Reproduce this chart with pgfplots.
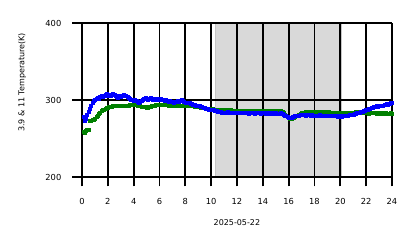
\documentclass[border=0pt]{standalone}
\usepackage{pgfplots}
\usepackage{pgfplotstable}
\pgfplotsset{compat=1.18}
\usepackage{fontspec}
\setmainfont{DejaVu Sans}
\definecolor{mblue}{HTML}{0000FF}
\definecolor{mgreen}{HTML}{008000}
\definecolor{shade}{HTML}{D9D9D9}
\pgfplotstableread{
h b g
0.1 278 259
0.2 273 258
0.3 276 260
0.4 281 261
0.5 285 262
0.6 289 273
0.7 292 273
0.8 296 274
0.9 299 275
1.0 301 276
1.1 302 278
1.2 303 280
1.3 302 282
1.4 304 284
1.5 305 286
1.6 304 287
1.7 306 288
1.8 307 289
1.9 308 290
2.0 306 290
2.1 307 291
2.2 305 291
2.3 307 291
2.4 308 292
2.5 307 292
2.6 306 292
2.7 304 292
2.8 303 293
2.9 305 293
3.0 304 293
3.1 306 293
3.2 307 293
3.3 305 293
3.4 306 293
3.5 304 293
3.6 303 293
3.7 302 294
3.8 301 294
3.9 300 294
4.0 299 294
4.1 300 294
4.2 299 294
4.3 298 293
4.4 297 292
4.5 298 292
4.6 299 291
4.7 301 291
4.8 302 291
4.9 303 291
5.0 302 290
5.1 301 290
5.2 302 291
5.3 303 291
5.4 302 292
5.5 301 293
5.6 302 293
5.7 301 294
5.8 302 294
5.9 300 294
6.0 301 294
6.1 302 294
6.2 301 294
6.3 300 294
6.4 299 294
6.5 300 294
6.6 299 294
6.7 298 293
6.8 299 293
6.9 298 294
7.0 298 293
7.1 297 293
7.2 298 293
7.3 298 293
7.4 299 293
7.5 298 293
7.6 299 293
7.7 300 293
7.8 299 293
7.9 298 292
8.0 297 292
8.1 297 292
8.2 296 292
8.3 296 292
8.4 295 292
8.5 295 292
8.6 294 292
8.7 294 291
8.8 293 291
8.9 293 291
9.0 292 291
9.1 292 291
9.2 291 290
9.3 291 290
9.4 290 290
9.5 290 290
9.6 289 289
9.7 289 289
9.8 288 289
9.9 288 289
10.0 288 289
10.1 287 289
10.2 287 288
10.3 286 288
10.4 286 288
10.5 285 288
10.6 285 288
10.7 285 288
10.8 284 288
10.9 284 288
11.0 284 287
11.1 284 287
11.2 284 287
11.3 285 287
11.4 284 287
11.5 284 287
11.6 283 286
11.7 284 286
11.8 284 286
11.9 283 286
12.0 284 286
12.1 284 286
12.2 283 286
12.3 283 286
12.4 284 286
12.5 283 286
12.6 283 286
12.7 284 286
12.8 283 286
12.9 282 286
13.0 283 286
13.1 283 286
13.2 283 286
13.3 283 286
13.4 282 286
13.5 283 286
13.6 283 286
13.7 283 286
13.8 282 286
13.9 283 286
14.0 283 286
14.1 283 286
14.2 282 285
14.3 283 285
14.4 283 286
14.5 282 286
14.6 282 286
14.7 283 286
14.8 282 286
14.9 282 286
15.0 283 286
15.1 282 286
15.2 282 286
15.3 282 286
15.4 283 286
15.5 282 285
15.6 281 283
15.7 280 281
15.8 279 279
15.9 278 278
16.0 277 277
16.1 277 276
16.2 277 276
16.3 278 277
16.4 278 277
16.5 279 278
16.6 279 279
16.7 280 280
16.8 280 281
16.9 281 282
17.0 281 283
17.1 281 284
17.2 281 284
17.3 280 285
17.4 281 285
17.5 281 285
17.6 281 285
17.7 280 285
17.8 281 285
17.9 280 285
18.0 280 285
18.1 280 285
18.2 280 285
18.3 280 285
18.4 281 285
18.5 280 285
18.6 280 285
18.7 280 285
18.8 280 285
18.9 279 285
19.0 280 285
19.1 280 285
19.2 279 284
19.3 280 284
19.4 279 284
19.5 280 284
19.6 279 284
19.7 279 284
19.8 278 283
19.9 279 283
20.0 278 283
20.1 278 283
20.2 279 283
20.3 279 283
20.4 280 283
20.5 280 283
20.6 280 284
20.7 281 284
20.8 281 284
20.9 281 284
21.0 281 284
21.1 282 284
21.2 282 285
21.3 283 285
21.4 283 285
21.5 284 285
21.6 285 285
21.7 285 284
21.8 286 284
21.9 286 284
22.0 287 283
22.1 288 283
22.2 289 282
22.3 289 283
22.4 290 283
22.5 290 284
22.6 291 283
22.7 291 283
22.8 292 282
22.9 291 283
23.0 292 283
23.1 293 282
23.2 292 282
23.3 293 283
23.4 294 282
23.5 294 283
23.6 295 282
23.7 294 282
23.8 295 282
23.9 296 283
24.0 296 282
}\datatable
\begin{document}
\fontsize{9}{11}\selectfont
\begin{tikzpicture}
\useasboundingbox (-82pt,-71pt) rectangle (336pt,177pt);
\begin{axis}[
  at={(-9.5pt,-9.5pt)}, anchor=south west,
  width=319.5pt, height=163.5pt, scale only axis,
  xmin=-0.7355, xmax=24, ymin=187.66, ymax=400,
  xtick={0,2,...,24}, ytick={200,300,400},
  major tick length=0pt,
  axis line style={draw=none},
  grid=major,
  major grid style={black, line width=1.7pt},
  axis on top,
  clip=false,
  font=\fontsize{8}{10}\selectfont,
  tick label style={font=\fontsize{8.3}{10}\selectfont},
  xticklabel style={anchor=center, yshift=-14.5pt},
  yticklabel style={anchor=east, xshift=-8pt},
  /pgf/number format/assume math mode=true,
  xlabel={2025-05-22},
  xlabel style={at={(axis description cs:0.5146,-0.2214)}, anchor=center, font=\fontsize{8}{10}\selectfont},
  ylabel={3.9 \& 11 Temperature(K)},
  ylabel style={at={(axis description cs:-0.1578,0.636)}, anchor=center, font=\fontsize{8}{10}\selectfont},
]
\addplot[fill=shade, draw=gray!45, line width=0.8pt] coordinates {(10.3,200) (10.3,400) (20.05,400) (20.05,200)} -- cycle;
\addplot[only marks, mark=square*, mark size=1.5pt, color=mgreen] table[x=h, y=g] {\datatable};
\addplot[only marks, mark=square*, mark size=1.5pt, color=mblue] table[x=h, y=b] {\datatable};
\end{axis}
\end{tikzpicture}
\end{document}
